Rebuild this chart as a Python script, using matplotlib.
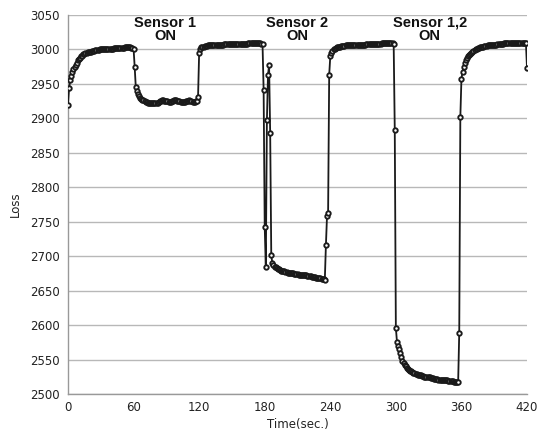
import numpy as np
import matplotlib
matplotlib.use("Agg")
import matplotlib.pyplot as plt

# Loss readings, one per second, by phase
loss_start = [
    2920, 2944, 2955, 2962, 2967, 2971, 2975, 2978, 2981, 2984,
    2986, 2988, 2990, 2991, 2993, 2994, 2995, 2995, 2996, 2996,
    2997, 2997, 2998, 2998, 2998, 2999, 2999, 2999, 2999, 3000,
    3000, 3000, 3000, 3000, 3001, 3001, 3001, 3001, 3001, 3001,
    3001, 3001, 3002, 3002, 3002, 3002, 3002, 3002, 3002, 3002,
    3002, 3002, 3003, 3003, 3003, 3003, 3003, 3003, 3002, 3002,
    3001]
loss_sensor1 = [
    2975, 2946, 2939, 2935, 2932, 2930, 2928, 2927, 2926,
    2925, 2924, 2924, 2923, 2923, 2922, 2922, 2922, 2922, 2922,
    2923, 2923, 2923, 2924, 2925, 2925, 2926, 2926, 2925, 2925,
    2925, 2925, 2924, 2924, 2924, 2925, 2925, 2926, 2926, 2926,
    2925, 2925, 2925, 2924, 2924, 2924, 2924, 2924, 2925, 2925,
    2925, 2926, 2925, 2925, 2924, 2924, 2924, 2925, 2925, 2931]
loss_off1 = [
    2995, 3001, 3003, 3004, 3004, 3005, 3005, 3005, 3006, 3006,
    3006, 3006, 3006, 3007, 3007, 3007, 3007, 3007, 3007, 3007,
    3007, 3007, 3007, 3008, 3008, 3008, 3008, 3008, 3008, 3008,
    3008, 3008, 3008, 3008, 3008, 3008, 3008, 3008, 3008, 3008,
    3008, 3008, 3008, 3008, 3008, 3009, 3009, 3009, 3009, 3009,
    3009, 3009, 3009, 3009, 3009, 3009, 3009, 3008, 3008]
loss_sensor2 = [
    2941, 2743, 2684, 2897, 2963, 2977, 2879, 2701, 2690, 2687,
    2685, 2684, 2683, 2682, 2681, 2680, 2679, 2679, 2678, 2678,
    2677, 2677, 2676, 2676, 2676, 2675, 2675, 2675, 2674, 2674,
    2674, 2674, 2673, 2673, 2673, 2673, 2672, 2672, 2672, 2672,
    2671, 2671, 2671, 2671, 2670, 2670, 2670, 2670, 2669, 2669,
    2669, 2668, 2668, 2667, 2667, 2667, 2666, 2716, 2758, 2762]
loss_off2 = [
    2963, 2990, 2995, 2998, 3000, 3001, 3002, 3003, 3003, 3004,
    3004, 3005, 3005, 3005, 3005, 3006, 3006, 3006, 3006, 3006,
    3006, 3006, 3007, 3007, 3007, 3007, 3007, 3007, 3007, 3007,
    3007, 3007, 3007, 3007, 3008, 3008, 3008, 3008, 3008, 3008,
    3008, 3008, 3008, 3008, 3008, 3008, 3008, 3008, 3009, 3009,
    3009, 3009, 3009, 3009, 3009, 3009, 3009, 3009, 3009, 3008]
loss_sensor12 = [
    2883, 2596, 2576, 2570, 2565, 2560, 2554, 2548, 2545, 2542,
    2540, 2538, 2536, 2535, 2534, 2533, 2532, 2531, 2530, 2529,
    2529, 2528, 2528, 2527, 2527, 2526, 2526, 2525, 2525, 2525,
    2524, 2524, 2524, 2523, 2523, 2523, 2522, 2522, 2522, 2522,
    2521, 2521, 2521, 2521, 2520, 2520, 2520, 2520, 2520, 2519,
    2519, 2519, 2519, 2519, 2518, 2518, 2518, 2518, 2517, 2589]
loss_off3 = [
    2902, 2957, 2968, 2975, 2981, 2985, 2988, 2990, 2992, 2994,
    2995, 2997, 2998, 2999, 3000, 3001, 3002, 3002, 3003, 3003,
    3004, 3004, 3005, 3005, 3005, 3006, 3006, 3006, 3006, 3007,
    3007, 3007, 3007, 3007, 3008, 3008, 3008, 3008, 3008, 3008,
    3009, 3009, 3009, 3009, 3009, 3009, 3009, 3009, 3010, 3010,
    3010, 3010, 3010, 3010, 3010, 3010, 3010, 3010, 3010, 3010,
    3010, 2973]

loss = np.array(loss_start + loss_sensor1 + loss_off1 + loss_sensor2
                + loss_off2 + loss_sensor12 + loss_off3, dtype=float)
time_sec = np.arange(len(loss))

x_ticks = [0, 60, 120, 180, 240, 300, 360, 420]
y_ticks = [2500, 2550, 2600, 2650, 2700, 2750, 2800, 2850, 2900, 2950, 3000, 3050]

annotations = [("Sensor 1\nON", 89), ("Sensor 2\nON", 210), ("Sensor 1,2\nON", 331)]

fig = plt.figure(figsize=(5.41, 4.30), dpi=100)
ax = fig.add_axes([68 / 541, 1 - 394 / 430, (527 - 68) / 541, (394 - 15) / 430])

ax.plot(time_sec, loss, color="#1a1a1a", lw=1.3, marker="o", ms=3.2,
        mfc="white", mec="#1a1a1a", mew=1.35, zorder=3)

ax.set_xlim(0, 420)
ax.set_ylim(2500, 3050)
ax.set_xticks(x_ticks)
ax.set_yticks(y_ticks)
ax.yaxis.grid(True, color="#b8b8b8", lw=1.0)
ax.xaxis.grid(False)
ax.set_axisbelow(True)
for s in ["top", "right"]:
    ax.spines[s].set_visible(False)
for s in ["left", "bottom"]:
    ax.spines[s].set_color("#999999")
    ax.spines[s].set_linewidth(1.0)
ax.tick_params(length=0, labelsize=8.5, colors="#222222")
ax.tick_params(axis="y", pad=6)
ax.tick_params(axis="x", pad=5)

ax.set_xlabel("Time(sec.)", fontsize=8.5, color="#222222", labelpad=3)
ax.set_ylabel("Loss", fontsize=8.5, color="#222222", labelpad=6)

for label, t in annotations:
    ax.text(t, 3029, label, ha="center", va="center", fontsize=10.5,
            fontweight="bold", family="Liberation Sans", linespacing=0.95,
            color="#111111")

fig.savefig("out.png", dpi=100)
